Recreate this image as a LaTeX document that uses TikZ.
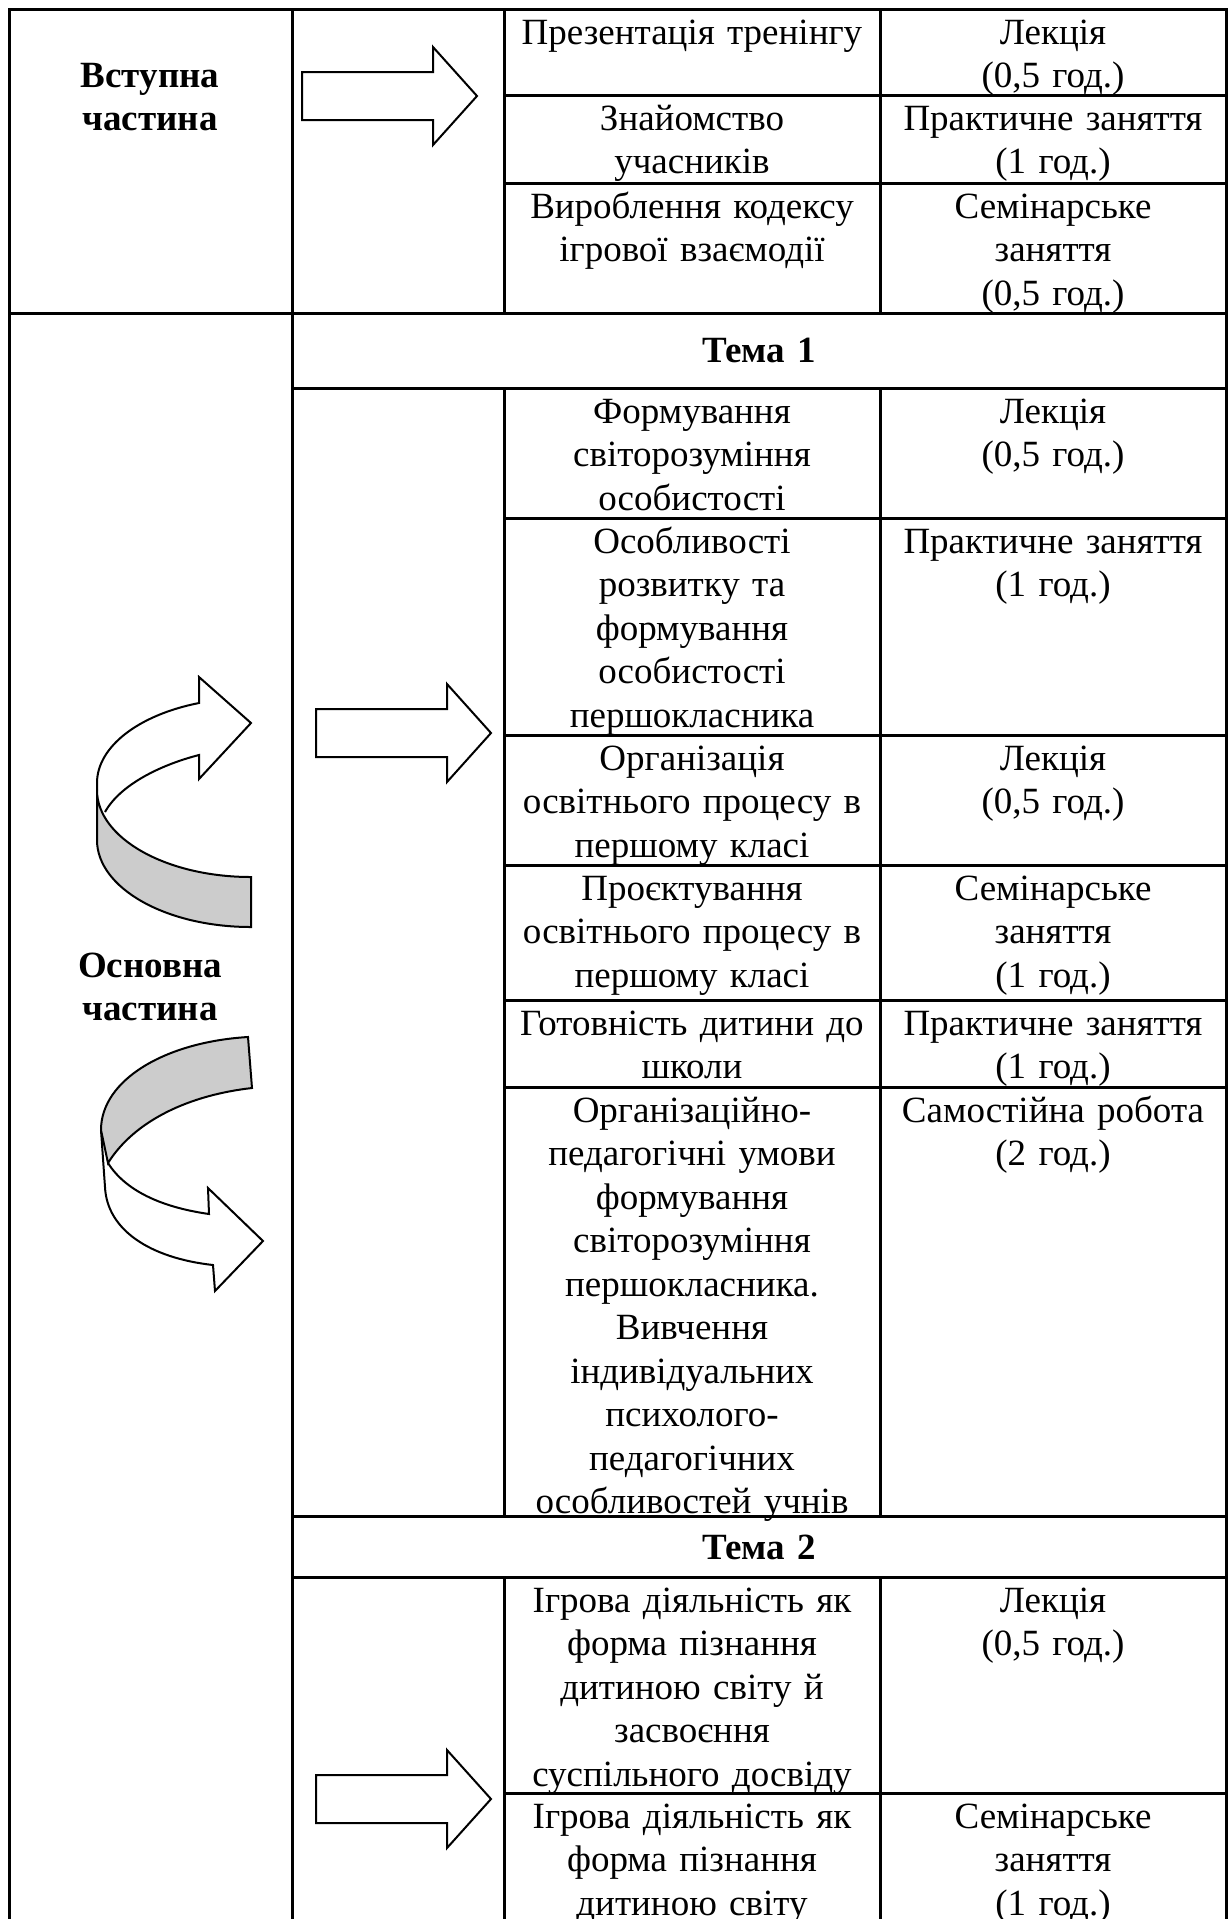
\documentclass[tikz,border=0pt]{standalone}
\usepackage{fontspec}
\setmainfont{Liberation Serif}
\begin{document}
\begin{tikzpicture}[x=0.5pt,y=-0.5pt,
	font={\fontsize{18.5pt}{21.75pt}\selectfont},
	rule/.style={line width=1.5pt,line cap=rect},
	blk/.style={line width=1pt,fill=white,line join=miter},
	band/.style={line width=1pt,fill=black!20},
	cell/.style={anchor=base,inner sep=0pt,text width=185pt,align=center},
	part/.style={anchor=base,inner sep=0pt,text width=130pt,align=center,font={\fontsize{18.5pt}{21.75pt}\selectfont\bfseries}}]
	\useasboundingbox (0,0) rectangle (1229,1919);
	% table rules
	\draw[rule] (9,9)--(1226,9) (9,313)--(1226,313);
	\draw[rule] (9,9)--(9,1919) (292,9)--(292,1919) (1226,9)--(1226,1919);
	\foreach \x in {504,880} \draw[rule] (\x,9)--(\x,313) (\x,388)--(\x,1516) (\x,1577)--(\x,1919);
	\foreach \y in {388,1516,1577} \draw[rule] (292,\y)--(1226,\y);
	\foreach \y in {95,183,518,735,865,1000,1087,1793} \draw[rule] (504,\y)--(1226,\y);
	% parts
	\node[part] (vst) at (150,87) {Вступна\\частина};
	\node[part] (osn) at (150,977) {Основна\\частина};
	\node[part] (tema1) at (759,362) {Тема 1};
	\node[part] (tema2) at (759,1559) {Тема 2};
	% cells
	\foreach \y/\a/\b in {9/{Презентація тренінгу}/{Лекція\\(0,5 год.)},
		95/{Знайомство\\учасників}/{Практичне заняття\\(1 год.)},
		183/{Вироблення кодексу\\ігрової взаємодії}/{Семінарське\\заняття\\(0,5 год.)},
		388/{Формування\\світорозуміння\\особистості}/{Лекція\\(0,5 год.)},
		518/{Особливості\\розвитку та\\формування\\особистості\\першокласника}/{Практичне заняття\\(1 год.)},
		735/{Організація\\освітнього процесу в\\першому класі}/{Лекція\\(0,5 год.)},
		865/{Проєктування\\освітнього процесу в\\першому класі}/{Семінарське\\заняття\\(1 год.)},
		1000/{Готовність дитини до\\школи}/{Практичне заняття\\(1 год.)},
		1087/{Організаційно-\\педагогічні умови\\формування\\світорозуміння\\першокласника.\\Вивчення\\індивідуальних\\психолого-\\педагогічних\\особливостей учнів}/{Самостійна робота\\(2 год.)},
		1577/{Ігрова діяльність як\\форма пізнання\\дитиною світу й\\засвоєння\\суспільного досвіду}/{Лекція\\(0,5 год.)},
		1793/{Ігрова діяльність як\\форма пізнання\\дитиною світу}/{Семінарське\\заняття\\(1 год.)}}{
		\node[cell] (a\y) at (692,\y+35) {\a};
		\node[cell] (b\y) at (1053,\y+35) {\b};
	}
	% straight arrows
	\foreach \x/\y in {302/96,316/733,316/1799}
	\draw[blk] (\x,\y-24) -- ++(131,0) -- ++(0,-25) -- (\x+175,\y) -- (\x+131,\y+49) -- ++(0,-25) -- (\x,\y+24) -- cycle;
	% upper curved arrow
	\draw[blk] (97,790)--(97,783) arc[start angle=180,end angle=109.7,x radius=77pt,y radius=42.5pt]
	-- (199,677) -- (251,723) -- (199,779) -- (199,755) .. controls (160,765) and (120,785) .. (105,812);
	\draw[band] (97,790)--(97,840) arc[start angle=180,end angle=270,x radius=77pt,y radius=43.5pt]
	-- (251,877) arc[start angle=270,end angle=180,x radius=77pt,y radius=43.5pt] -- cycle;
	% lower curved arrow
	\draw[blk] (101,1130) -- (105,1187) .. controls (107,1230) and (150,1258) .. (213,1265)
	-- (215,1291) -- (263,1241) -- (208,1188) -- (209,1214) .. controls (160,1207) and (125,1190) .. (108,1163);
	\draw[band] (248,1037) .. controls (165,1042) and (101,1080) .. (101,1130)
	-- (108,1163) .. controls (135,1120) and (190,1095) .. (252,1088) -- cycle;
\end{tikzpicture}
\end{document}
